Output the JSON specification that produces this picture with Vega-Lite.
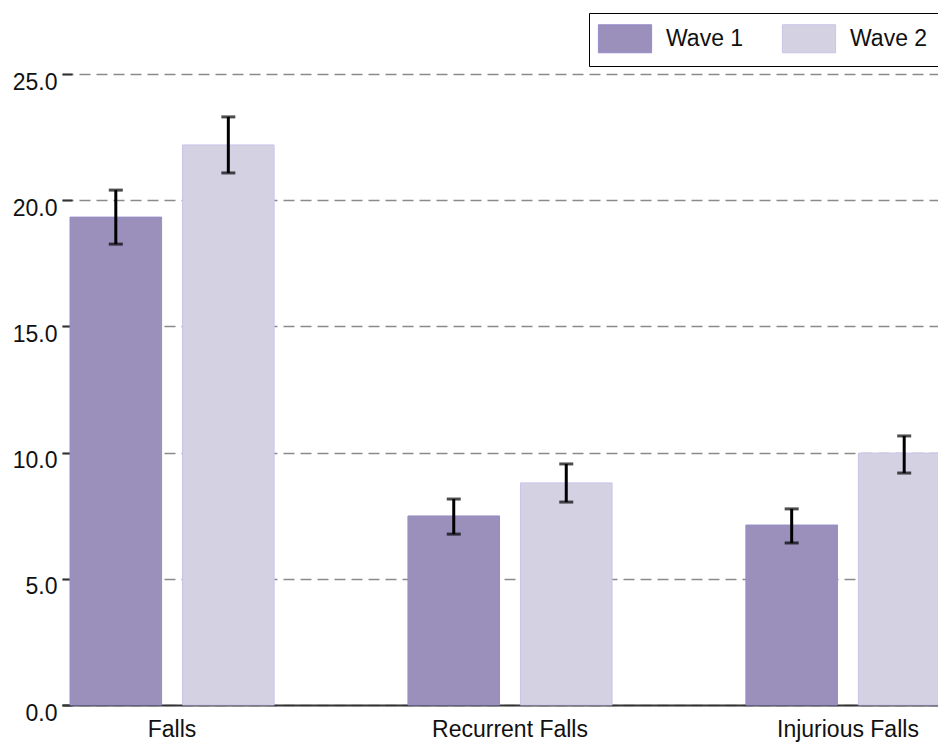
{
  "$schema": "https://vega.github.io/schema/vega-lite/v6.json",
  "autosize": {"type": "none"},
  "width": 876,
  "height": 631,
  "padding": {"left": 62, "top": 74, "right": 0, "bottom": 40},
  "background": "white",
  "config": {"view": {"stroke": null}, "font": "Liberation Sans"},
  "data": {"values": [
    {"measure": "Falls", "wave": "Wave 1", "value": 19.33, "lo": 18.26, "hi": 20.4},
    {"measure": "Falls", "wave": "Wave 2", "value": 22.19, "lo": 21.08, "hi": 23.3},
    {"measure": "Recurrent Falls", "wave": "Wave 1", "value": 7.49, "lo": 6.77, "hi": 8.16},
    {"measure": "Recurrent Falls", "wave": "Wave 2", "value": 8.8, "lo": 8.04, "hi": 9.55},
    {"measure": "Injurious Falls", "wave": "Wave 1", "value": 7.13, "lo": 6.42, "hi": 7.77},
    {"measure": "Injurious Falls", "wave": "Wave 2", "value": 9.98, "lo": 9.19, "hi": 10.66}
  ]},
  "encoding": {
    "x": {
      "field": "measure", "type": "nominal",
      "sort": ["Falls", "Recurrent Falls", "Injurious Falls"],
      "scale": {"range": [0, 896], "paddingInner": 0.396, "paddingOuter": 0.0237},
      "axis": {"title": null, "labelAngle": 0, "labelFontSize": 23, "labelColor": "#111", "labelPadding": 13, "ticks": false, "domainColor": "#333", "domainWidth": 2, "grid": false}
    },
    "xOffset": {"field": "wave", "type": "nominal", "scale": {"paddingInner": 0.186, "paddingOuter": 0}}
  },
  "layer": [
    {
      "mark": {"type": "bar", "strokeWidth": 1},
      "encoding": {
        "y": {
          "field": "value", "type": "quantitative",
          "scale": {"domain": [0, 25], "nice": false, "zero": true},
          "axis": {"title": null, "values": [0, 5, 10, 15, 20, 25], "format": ".1f", "labelFontSize": 23, "labelColor": "#111", "labelBaseline": "top", "labelOffset": -3, "labelPadding": 15, "domain": false, "tickSize": -10, "tickColor": "#333", "tickWidth": 2, "gridColor": "#8a8a8a", "gridDash": [11, 6], "gridWidth": 1.5}
        },
        "color": {
          "field": "wave", "type": "nominal",
          "scale": {"domain": ["Wave 1", "Wave 2"], "range": ["#9b90bb", "#d4d1e3"]},
          "legend": {"orient": "none", "legendX": 527, "legendY": -61, "direction": "horizontal", "title": null, "symbolType": "M-1.9,-1H1.9V1H-1.9Z", "symbolSize": 784, "symbolOffset": 10.5, "symbolOpacity": 1, "symbolStrokeColor": "#a9a3d6", "symbolStrokeWidth": 1, "labelFontSize": 23, "labelColor": "#111", "labelOffset": 26.5, "strokeColor": "black", "fillColor": "white", "padding": 11, "columnPadding": 36}
        },
        "stroke": {
          "field": "wave", "type": "nominal",
          "scale": {"domain": ["Wave 1", "Wave 2"], "range": ["#958dc9", "#c8c4ea"]},
          "legend": null
        }
      }
    },
    {
      "mark": {"type": "rule", "color": "black", "strokeWidth": 3},
      "encoding": {"y": {"field": "lo", "type": "quantitative", "scale": {"domain": [0, 25], "nice": false}}, "y2": {"field": "hi"}}
    },
    {
      "mark": {"type": "tick", "color": "black", "thickness": 3, "size": 14, "orient": "horizontal"},
      "encoding": {"y": {"field": "lo", "type": "quantitative", "scale": {"domain": [0, 25], "nice": false}}}
    },
    {
      "mark": {"type": "tick", "color": "black", "thickness": 3, "size": 14, "orient": "horizontal"},
      "encoding": {"y": {"field": "hi", "type": "quantitative", "scale": {"domain": [0, 25], "nice": false}}}
    }
  ]
}
